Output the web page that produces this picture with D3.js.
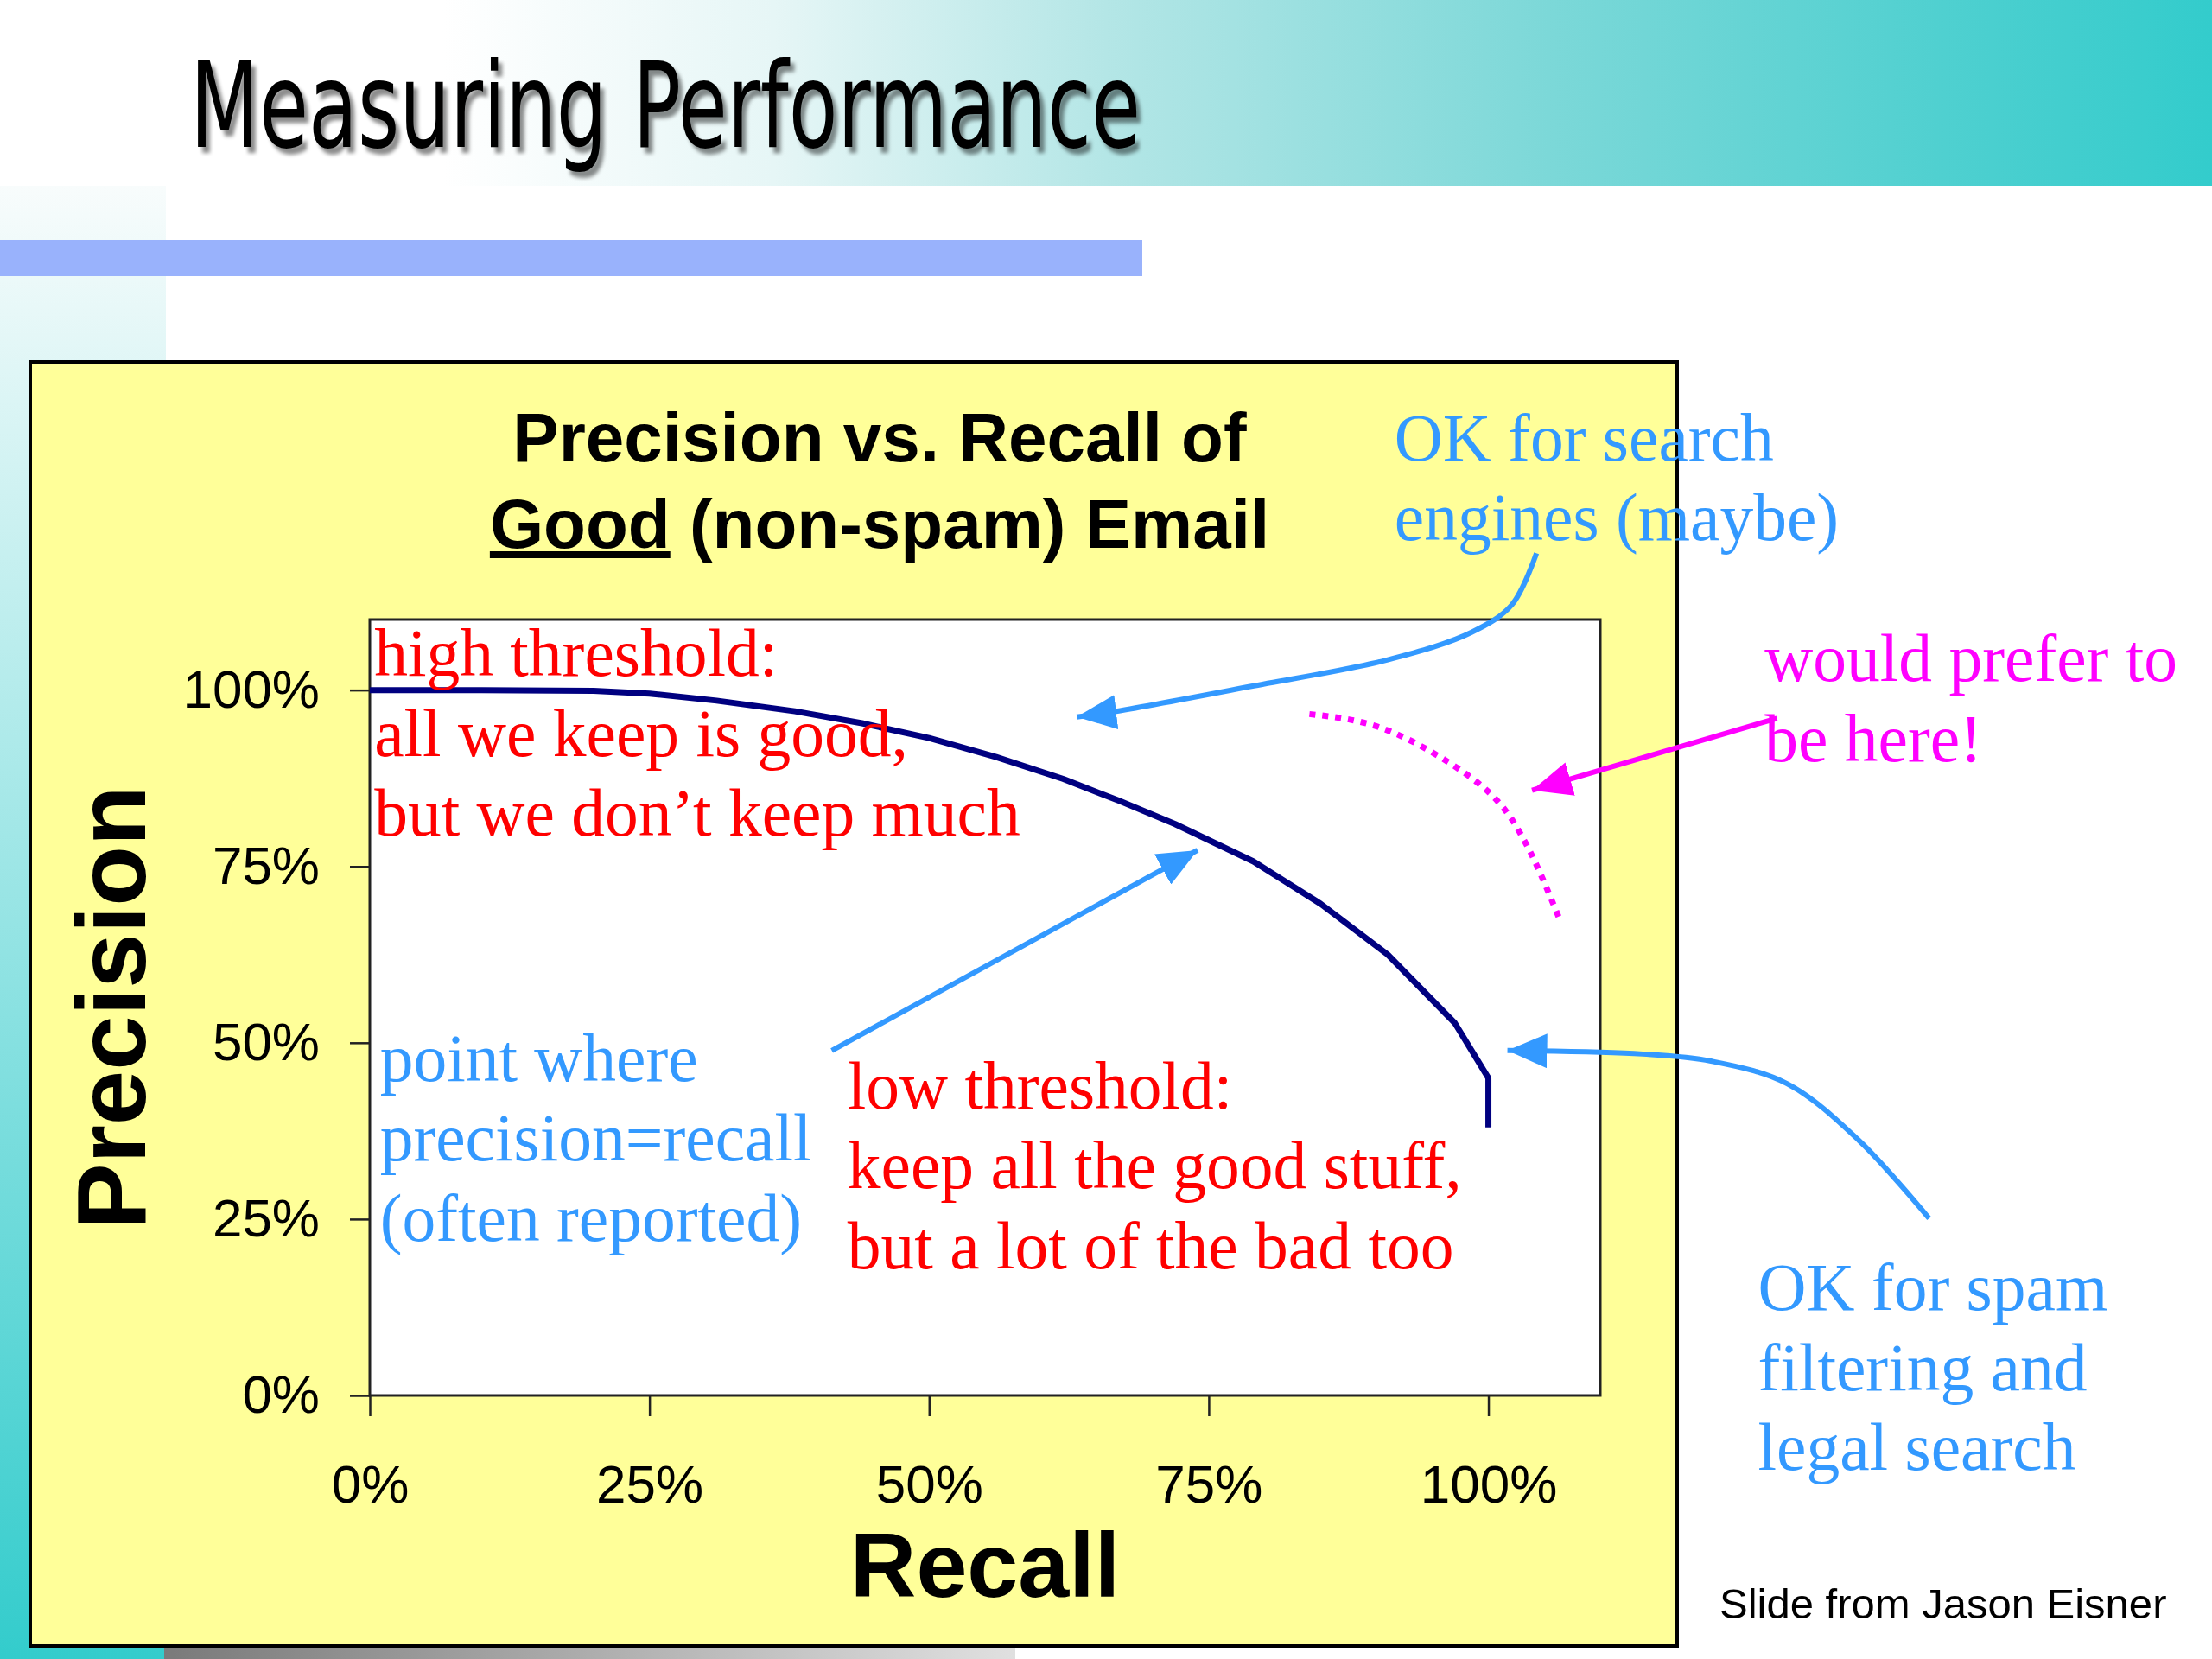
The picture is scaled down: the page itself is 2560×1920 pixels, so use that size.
<!DOCTYPE html>
<html>
<head>
<meta charset="utf-8">
<script src="https://cdn.jsdelivr.net/npm/d3@7"></script>
<style>
  html, body { margin: 0; padding: 0; background: #fff; }
  svg { display: block; }
</style>
</head>
<body>
<div id="slide"></div>
<script>
// Curve data (recall, precision)
const recall    = [0, 0.10, 0.20, 0.25, 0.31, 0.38, 0.44, 0.50, 0.56, 0.62, 0.67, 0.72, 0.79, 0.85, 0.91, 0.97, 1.0, 1.0];
const precision = [1.0, 1.0, 0.999, 0.995, 0.985, 0.970, 0.953, 0.932, 0.905, 0.874, 0.843, 0.810, 0.757, 0.697, 0.625, 0.528, 0.45, 0.38];

// Dotted "would prefer to be here" curve
const prefRecall    = [0.84, 0.903, 0.965, 1.008, 1.032, 1.047, 1.064];
const prefPrecision = [0.966, 0.947, 0.897, 0.843, 0.787, 0.738, 0.674];

// Tick values
const tickValues = [0, 0.25, 0.5, 0.75, 1.0];

// Annotation arrows in data units
const searchArrow = [[1.043, 1.194], [1.021, 1.121], [0.985, 1.082], [0.910, 1.043], [0.787, 1.005], [0.664, 0.969], [0.632, 0.962]];
const pointArrow  = [[0.413, 0.489], [0.740, 0.773]];
const spamArrow   = [[1.394, 0.251], [1.331, 0.362], [1.267, 0.442], [1.199, 0.474], [1.138, 0.484], [1.017, 0.489]];
const preferArrow = [[1.258, 0.960], [1.039, 0.858]];

// Annotation texts
const highText   = ["high threshold:", "all we keep is good,", "but we don\u2019t keep much"];
const lowText    = ["low threshold:", "keep all the good stuff,", "but a lot of the bad too"];
const pointText  = ["point where", "precision=recall", "(often reported)"];
const searchText = ["OK for search", "engines (maybe)"];
const preferText = ["would prefer to", "be here!"];
const spamText   = ["OK for spam", "filtering and", "legal search"];

//Width and height
var w = 2560;
var h = 1920;

var svg = d3.select("#slide")
    .append("svg")
    .attr("width", w)
    .attr("height", h);

var defs = svg.append("defs");

//Background gradients
var band = defs.append("linearGradient").attr("id", "band")
    .attr("x1", "0").attr("x2", "1").attr("y1", "0").attr("y2", "0");
[[0.2, "#ffffff"], [0.35, "#e6f6f6"], [0.5, "#b4e6e6"], [0.7, "#7cd8d8"], [0.9, "#4acfcf"], [1, "#33cccc"]]
    .forEach(s => band.append("stop").attr("offset", s[0]).attr("stop-color", s[1]));

var stripe = defs.append("linearGradient").attr("id", "stripe")
    .attr("x1", "0").attr("x2", "0").attr("y1", "0").attr("y2", "1");
stripe.append("stop").attr("offset", 0).attr("stop-color", "#f8fcfc");
stripe.append("stop").attr("offset", 1).attr("stop-color", "#33cccc");

var grayStrip = defs.append("linearGradient").attr("id", "grayStrip");
grayStrip.append("stop").attr("offset", 0).attr("stop-color", "#7a7a7a");
grayStrip.append("stop").attr("offset", 1).attr("stop-color", "#e0e0e0");

//Title shadow
defs.append("filter").attr("id", "shadow")
    .attr("x", "-5%").attr("y", "-20%").attr("width", "115%").attr("height", "150%")
    .append("feDropShadow")
    .attr("dx", 5).attr("dy", 7)
    .attr("stdDeviation", 2)
    .attr("flood-color", "#000")
    .attr("flood-opacity", 0.45);

//Arrow heads
[["blueHead", "#3399ff"], ["pinkHead", "#ff00ff"]].forEach(m => {
    defs.append("marker")
        .attr("id", m[0])
        .attr("markerUnits", "userSpaceOnUse")
        .attr("viewBox", "0 0 46 40")
        .attr("refX", 46)
        .attr("refY", 20)
        .attr("markerWidth", 46)
        .attr("markerHeight", 40)
        .attr("orient", "auto")
        .append("path")
        .attr("d", "M0,0 L46,20 L0,40 Z")
        .attr("fill", m[1]);
});

svg.append("rect").attr("x", 0).attr("y", 0).attr("width", w).attr("height", 215).attr("fill", "url(#band)");
svg.append("rect").attr("x", 0).attr("y", 215).attr("width", 192).attr("height", h - 215).attr("fill", "url(#stripe)");
svg.append("rect").attr("x", 0).attr("y", 278).attr("width", 1322).attr("height", 41).attr("fill", "#99b2fc");
svg.append("rect").attr("x", 190).attr("y", 1907).attr("width", 985).attr("height", 13).attr("fill", "url(#grayStrip)");

//Slide title
svg.append("text")
    .attr("x", 220)
    .attr("y", 170)
    .attr("font-family", "DejaVu Sans")
    .attr("font-size", 137)
    .attr("textLength", 1100)
    .attr("lengthAdjust", "spacingAndGlyphs")
    .attr("fill", "#000")
    .attr("filter", "url(#shadow)")
    .text("Measuring Performance");

//Yellow chart panel
svg.append("rect")
    .attr("x", 35).attr("y", 419)
    .attr("width", 1906).attr("height", 1486)
    .attr("fill", "#ffff99")
    .attr("stroke", "#000")
    .attr("stroke-width", 4);

//Scales
var x = d3.scaleLinear().domain([0, 1.1]).range([428, 1852]);
var y = d3.scaleLinear().domain([0, 1.1]).range([1615, 717]);

//Plot area
svg.append("rect")
    .attr("x", x(0)).attr("y", y(1.1))
    .attr("width", x(1.1) - x(0)).attr("height", y(0) - y(1.1))
    .attr("fill", "#fff")
    .attr("stroke", "#222")
    .attr("stroke-width", 3);

//Axes
var yAxis = svg.append("g")
    .attr("transform", `translate(${x(0)},0)`)
    .call(d3.axisLeft(y).tickValues(tickValues).tickFormat(d3.format(".0%")).tickSize(23).tickPadding(35));
var xAxis = svg.append("g")
    .attr("transform", `translate(0,${y(0)})`)
    .call(d3.axisBottom(x).tickValues(tickValues).tickFormat(d3.format(".0%")).tickSize(24).tickPadding(56));

[yAxis, xAxis].forEach(a => {
    a.select(".domain").remove();
    a.selectAll("line").attr("stroke", "#222").attr("stroke-width", 2.5);
    a.selectAll("text")
        .attr("font-family", "Liberation Sans, Arial, sans-serif")
        .attr("font-size", 62)
        .attr("fill", "#000");
});

//Axis titles
svg.append("text")
    .attr("x", (x(0) + x(1.1)) / 2)
    .attr("y", 1848)
    .attr("text-anchor", "middle")
    .attr("font-family", "Liberation Sans, Arial, sans-serif")
    .attr("font-weight", "bold")
    .attr("font-size", 106)
    .text("Recall");

svg.append("text")
    .attr("transform", `translate(168,${(y(0) + y(1.1)) / 2}) rotate(-90)`)
    .attr("text-anchor", "middle")
    .attr("font-family", "Liberation Sans, Arial, sans-serif")
    .attr("font-weight", "bold")
    .attr("font-size", 114)
    .text("Precision");

//Chart title
var title = svg.append("text")
    .attr("text-anchor", "middle")
    .attr("font-family", "Liberation Sans, Arial, sans-serif")
    .attr("font-weight", "bold")
    .attr("font-size", 80);
title.append("tspan").attr("x", 1018).attr("y", 534).text("Precision vs. Recall of");
var line2 = title.append("tspan").attr("x", 1018).attr("y", 634);
line2.append("tspan").attr("text-decoration", "underline").text("Good");
line2.append("tspan").text(" (non-spam) Email");

//Precision/recall curve
svg.append("path")
    .datum(d3.zip(recall, precision))
    .attr("d", d3.line().x(d => x(d[0])).y(d => y(d[1])))
    .attr("fill", "none")
    .attr("stroke", "#000080")
    .attr("stroke-width", 7)
    .attr("stroke-linejoin", "round");

//Preferred curve (dotted)
svg.append("path")
    .datum(d3.zip(prefRecall, prefPrecision))
    .attr("d", d3.line().x(d => x(d[0])).y(d => y(d[1])).curve(d3.curveNatural))
    .attr("fill", "none")
    .attr("stroke", "#ff00ff")
    .attr("stroke-width", 7)
    .attr("stroke-dasharray", "7 8");

//Annotation arrows
var arrowLine = d3.line().x(d => x(d[0])).y(d => y(d[1])).curve(d3.curveCatmullRom);
[[searchArrow, "#3399ff", "blueHead"],
 [pointArrow, "#3399ff", "blueHead"],
 [spamArrow, "#3399ff", "blueHead"],
 [preferArrow, "#ff00ff", "pinkHead"]].forEach(a => {
    svg.append("path")
        .datum(a[0])
        .attr("d", arrowLine)
        .attr("fill", "none")
        .attr("stroke", a[1])
        .attr("stroke-width", 6)
        .attr("marker-end", `url(#${a[2]})`);
});

//Annotation text blocks
function addNote(lines, px, py, color) {
    var t = svg.append("text")
        .attr("font-family", "Liberation Serif, Times New Roman, serif")
        .attr("font-size", 77.5)
        .attr("fill", color);
    lines.forEach((s, i) => {
        t.append("tspan")
            .attr("x", x(px))
            .attr("y", y(py) + i * 92.5)
            .text(s);
    });
}

addNote(highText, 0.004, 1.020, "#ff0000");
addNote(lowText, 0.427, 0.407, "#ff0000");
addNote(pointText, 0.009, 0.446, "#3399ff");
addNote(searchText, 0.916, 1.326, "#3399ff");
addNote(preferText, 1.247, 1.013, "#ff00ff");
addNote(spamText, 1.241, 0.121, "#3399ff");

//Credit
svg.append("text")
    .attr("x", 1990)
    .attr("y", 1873)
    .attr("font-family", "Liberation Sans, Arial, sans-serif")
    .attr("font-size", 49)
    .text("Slide from Jason Eisner");
</script>
</body>
</html>
